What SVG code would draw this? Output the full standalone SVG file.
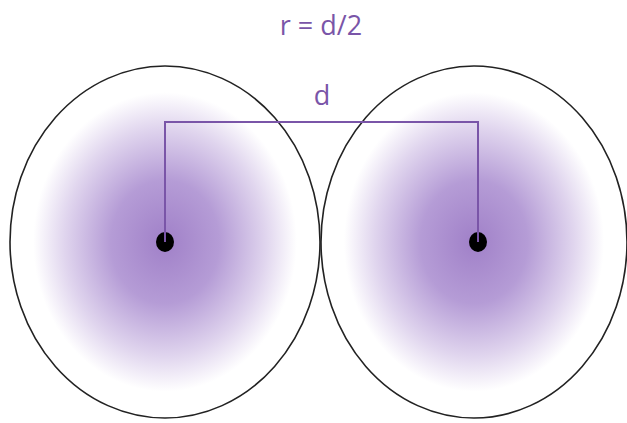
<svg xmlns="http://www.w3.org/2000/svg" width="627" height="423" viewBox="0 0 627 423">
<style>
.lbl{font-family:"Open Sans","Liberation Sans",sans-serif;fill:#7a55a8;font-size:27px;text-anchor:middle}
.circ{stroke:#222;stroke-width:1.6}
.dot{fill:#000}
.conn{fill:none;stroke:#7a55a8;stroke-width:2}
</style>
<defs>
<radialGradient id="g" cx="0.5" cy="0.5" r="0.5">
<stop offset="0" stop-color="#a080c8"/>
<stop offset="0.35" stop-color="#b59cd6"/>
<stop offset="0.65" stop-color="#e0d5ee"/>
<stop offset="0.85" stop-color="#ffffff"/>
</radialGradient>
</defs>
<rect width="627" height="423" fill="#fff"/>
<g id="atom-left">
<ellipse class="circ" cx="165" cy="242" rx="155" ry="176" fill="url(#g)"/>
<ellipse class="dot" cx="165" cy="242" rx="9" ry="10"/>
</g>
<g id="atom-right">
<ellipse class="circ" cx="474" cy="242" rx="153" ry="176" fill="url(#g)"/>
<ellipse class="dot" cx="478" cy="242" rx="9" ry="10"/>
</g>
<g id="connectors">
<path class="conn" d="M165 242 V122 H478 V242"/>
</g>
<text class="lbl" x="322" y="105">d</text>
<text class="lbl" x="321" y="35">r = d/2</text>
</svg>
